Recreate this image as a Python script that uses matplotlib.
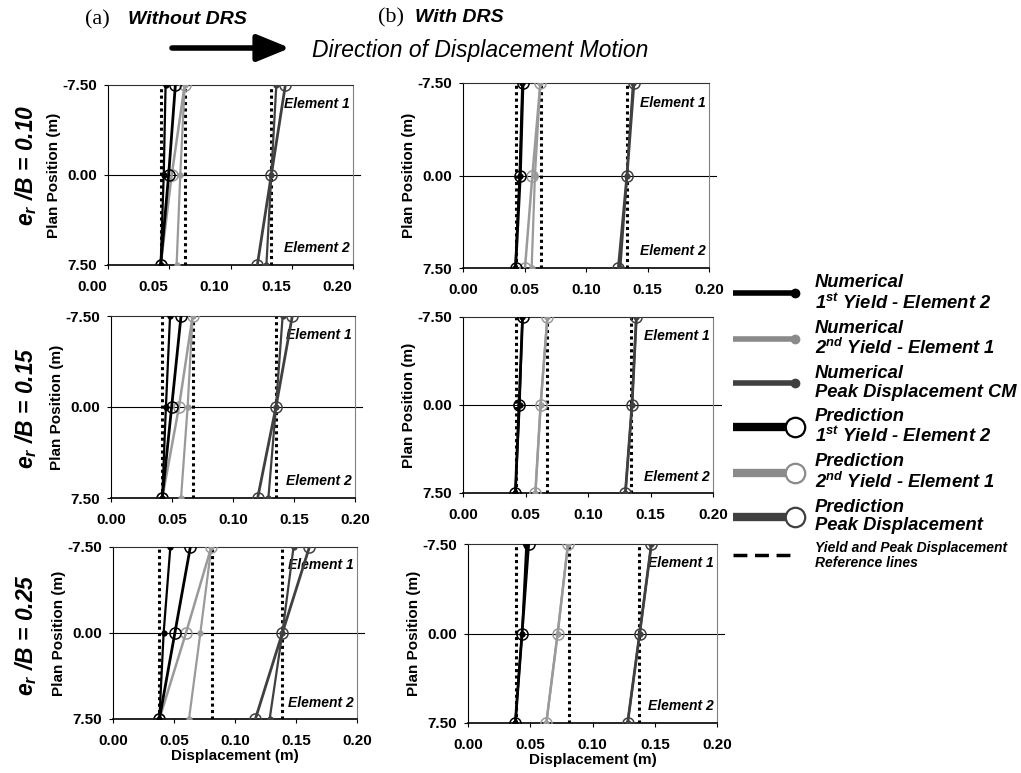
import numpy as np
import matplotlib
matplotlib.use('Agg')
import matplotlib.pyplot as plt
from matplotlib.lines import Line2D
from matplotlib.legend_handler import HandlerLine2D
from matplotlib.ticker import FormatStrFormatter
from matplotlib.transforms import ScaledTranslation

plt.rcParams['font.family'] = ['Liberation Sans', 'DejaVu Sans']
plt.rcParams['mathtext.fontset'] = 'custom'
plt.rcParams['mathtext.rm'] = 'Liberation Sans:bold:italic'
plt.rcParams['mathtext.it'] = 'Liberation Sans:bold:italic'
plt.rcParams['mathtext.bf'] = 'Liberation Sans:bold:italic'

W, H = 1021, 773

# plan positions of element 1 (top), CM, element 2 (bottom)
plan_pos = [-7.5, 0.0, 7.5]
ecc_labels = ['0.10', '0.15', '0.25']
x_ticks = [0.0, 0.05, 0.10, 0.15, 0.20]

# (a) without DRS, one row per e_r/B
num_y1_a = [[0.0470, 0.0455, 0.0430], [0.0484, 0.0450, 0.0420], [0.0470, 0.0415, 0.0380]]
num_y2_a = [[0.0626, 0.0590, 0.0560], [0.0669, 0.0628, 0.0574], [0.0806, 0.0716, 0.0623]]
num_pk_a = [[0.1374, 0.1333, 0.1293], [0.1407, 0.1352, 0.1290], [0.1480, 0.1388, 0.1284]]
pre_y1_a = [[0.0550, 0.0495, 0.0430], [0.0574, 0.0497, 0.0420], [0.0634, 0.0507, 0.0380]]
pre_y2_a = [[0.0626, 0.0520, 0.0430], [0.0669, 0.0557, 0.0420], [0.0806, 0.0598, 0.0380]]
pre_pk_a = [[0.1448, 0.1333, 0.1219], [0.1486, 0.1352, 0.1202], [0.1610, 0.1388, 0.1167]]
ref_a = [[0.0430, 0.0626, 0.1333], [0.0420, 0.0675, 0.1352], [0.0380, 0.0811, 0.1388]]

# (b) with DRS
num_y1_b = [[0.0482, 0.0460, 0.0425], [0.0475, 0.0453, 0.0419], [0.0469, 0.0434, 0.0380]]
num_y2_b = [[0.0629, 0.0585, 0.0558], [0.0675, 0.0621, 0.0579], [0.0803, 0.0720, 0.0629]]
num_pk_b = [[0.1382, 0.1333, 0.1279], [0.1387, 0.1352, 0.1299], [0.1473, 0.1379, 0.1282]]
pre_y1_b = [[0.0488, 0.0466, 0.0428], [0.0477, 0.0448, 0.0419], [0.0487, 0.0434, 0.0380]]
pre_y2_b = [[0.0629, 0.0564, 0.0504], [0.0675, 0.0621, 0.0579], [0.0803, 0.0720, 0.0629]]
pre_pk_b = [[0.1390, 0.1333, 0.1263], [0.1387, 0.1352, 0.1299], [0.1473, 0.1379, 0.1282]]
ref_b = [[0.0434, 0.0631, 0.1336], [0.0427, 0.0675, 0.1347], [0.0386, 0.0809, 0.1376]]

BLACK, LGREY, DGREY = '#000000', '#9a9a9a', '#404040'

# axes boxes in pixels: left, right, top, bottom
boxes_a = [(108, 353, 85, 265), (111, 355, 316, 498), (113, 357, 547, 719)]
boxes_b = [(463, 709, 83, 268), (463, 713, 317, 493), (468, 717, 544, 723)]
row_label_y = [165, 408, 635]


def rect(l, r, t, b):
    return [l / W, 1 - b / H, (r - l) / W, (b - t) / H]


def panel(ax, n1, n2, npk, p1, p2, ppk, refs, last_row):
    for x in refs:
        ax.axvline(x, color='k', lw=2.2, ls=(0, (1, 1.1)), zorder=1)
    ax.axhline(0, color='k', lw=0.8, xmax=1.03, clip_on=False, zorder=0)
    ax.plot(n2, plan_pos, color=LGREY, lw=1.6, marker='o', ms=3.5, zorder=3)
    ax.plot(p2, plan_pos, color=LGREY, lw=1.8, marker='o', ms=8, mfc='none', mec=LGREY, mew=1.1, zorder=3)
    ax.plot(npk, plan_pos, color=DGREY, lw=1.6, marker='o', ms=3.5, zorder=4)
    ax.plot(ppk, plan_pos, color=DGREY, lw=2.0, marker='o', ms=8, mfc='none', mec=DGREY, mew=1.1, zorder=4)
    ax.plot(n1, plan_pos, color=BLACK, lw=1.6, marker='o', ms=3.5, zorder=5)
    ax.plot(p1, plan_pos, color=BLACK, lw=2.0, marker='o', ms=8, mfc='none', mec=BLACK, mew=1.1, zorder=5)

    ax.set_xlim(0, 0.2)
    ax.set_ylim(7.5, -7.5)
    ax.set_xticks(x_ticks)
    ax.set_yticks(plan_pos)
    ax.xaxis.set_major_formatter(FormatStrFormatter('%.2f'))
    ax.yaxis.set_major_formatter(FormatStrFormatter('%.2f'))
    ax.tick_params(labelsize=11, length=3, width=0.8, pad=5, direction='out')
    ax.tick_params(axis='x', pad=8)
    for lab in ax.get_xticklabels() + ax.get_yticklabels():
        lab.set_fontweight('bold')
    ax.spines['left'].set_color('k')
    ax.spines['bottom'].set_color('k')
    ax.spines['bottom'].set_linewidth(1.2)
    ax.spines['top'].set_color('#303030')
    ax.spines['right'].set_color('#808080')
    ax.set_ylabel('Plan Position (m)', fontsize=11, fontweight='bold', labelpad=1)
    if last_row:
        ax.set_xlabel('Displacement (m)', fontsize=11, fontweight='bold', labelpad=0.5)
    ax.text(0.985, -5.9, 'Element 1', transform=ax.get_yaxis_transform(), ha='right', va='center',
            fontsize=10, fontweight='bold', style='italic')
    ax.text(0.985, 6.1, 'Element 2', transform=ax.get_yaxis_transform(), ha='right', va='center',
            fontsize=10, fontweight='bold', style='italic')


fig = plt.figure(figsize=(W / 100, H / 100), dpi=100)

for i in range(3):
    ax = fig.add_axes(rect(*boxes_a[i]))
    panel(ax, num_y1_a[i], num_y2_a[i], num_pk_a[i], pre_y1_a[i], pre_y2_a[i], pre_pk_a[i], ref_a[i], i == 2)
    if i == 0:
        # tick labels in the first panel sit slightly left of their ticks
        off = ScaledTranslation(-0.16, 0, fig.dpi_scale_trans)
        for lab in ax.get_xticklabels():
            lab.set_transform(lab.get_transform() + off)
    ax = fig.add_axes(rect(*boxes_b[i]))
    panel(ax, num_y1_b[i], num_y2_b[i], num_pk_b[i], pre_y1_b[i], pre_y2_b[i], pre_pk_b[i], ref_b[i], i == 2)
    fig.text(26 / W, 1 - row_label_y[i] / H, 'e$_r$ /B = ' + ecc_labels[i], rotation=90,
             ha='center', va='center', fontsize=16.5, fontweight='bold', style='italic')

# header
fig.text(97 / W, 1 - 20 / H, '(a)', family='Liberation Serif', fontsize=16, ha='center', va='center')
fig.text(128 / W, 1 - 20 / H, 'Without DRS', fontsize=14, fontweight='bold', style='italic', va='center')
fig.text(391 / W, 1 - 18 / H, '(b)', family='Liberation Serif', fontsize=16, ha='center', va='center')
fig.text(415 / W, 1 - 18 / H, 'With DRS', fontsize=14, fontweight='bold', style='italic', va='center')
fig.text(312 / W, 1 - 50 / H, 'Direction of Displacement Motion', fontsize=16.5, style='italic', va='center')
fig.add_artist(matplotlib.patches.FancyArrowPatch((172 / W, 1 - 48 / H), (290 / W, 1 - 48 / H),
                                                  transform=fig.transFigure, arrowstyle='-|>,head_length=1.1,head_width=0.45',
                                                  mutation_scale=18, lw=4, color='k', shrinkA=0, shrinkB=0))


class EndMarker(HandlerLine2D):
    # line with its marker drawn only at the right end, as in the original legend
    def create_artists(self, legend, orig, xdescent, ydescent, width, height, fontsize, trans):
        y = (height - ydescent) / 2
        x0, x1 = -xdescent, width - xdescent
        ln = Line2D([x0, x1], [y, y])
        ln.update_from(orig)
        ln.set_marker('None')
        ln.set_solid_capstyle('butt')
        mk = Line2D([x1], [y])
        mk.update_from(orig)
        mk.set_linestyle('None')
        ln.set_transform(trans)
        mk.set_transform(trans)
        return [ln, mk]


handles = [
    Line2D([], [], color=BLACK, lw=4, marker='o', ms=6),
    Line2D([], [], color='#8a8a8a', lw=4, marker='o', ms=6),
    Line2D([], [], color=DGREY, lw=4, marker='o', ms=6),
    Line2D([], [], color=BLACK, lw=6, marker='o', ms=14, mfc='white', mec=BLACK, mew=1.6),
    Line2D([], [], color='#8a8a8a', lw=6, marker='o', ms=14, mfc='white', mec='#8a8a8a', mew=1.6),
    Line2D([], [], color=DGREY, lw=6, marker='o', ms=14, mfc='white', mec=DGREY, mew=1.6),
    Line2D([], [], color=BLACK, lw=2.5, ls=(0, (4, 2.2)), marker='None'),
]
labels = [
    'Numerical\n1$^{st}$ Yield - Element 2',
    'Numerical\n2$^{nd}$ Yield - Element 1',
    'Numerical\nPeak Displacement CM',
    'Prediction\n1$^{st}$ Yield - Element 2',
    'Prediction\n2$^{nd}$ Yield - Element 1',
    'Prediction\nPeak Displacement',
    'Yield and Peak Displacement\nReference lines',
]
leg = fig.legend(handles, labels, loc='upper left', bbox_to_anchor=(733 / W, 1 - 274 / H),
                 frameon=False, borderpad=0, borderaxespad=0, handlelength=3.4, handletextpad=1.05,
                 labelspacing=0.38, prop={'size': 13.2, 'weight': 'bold', 'style': 'italic'},
                 handler_map={Line2D: EndMarker()})
for t in leg.get_texts():
    t.set_linespacing(1.1)
leg.get_texts()[-1].set_fontsize(10)

fig.savefig('out.png', dpi=100)
